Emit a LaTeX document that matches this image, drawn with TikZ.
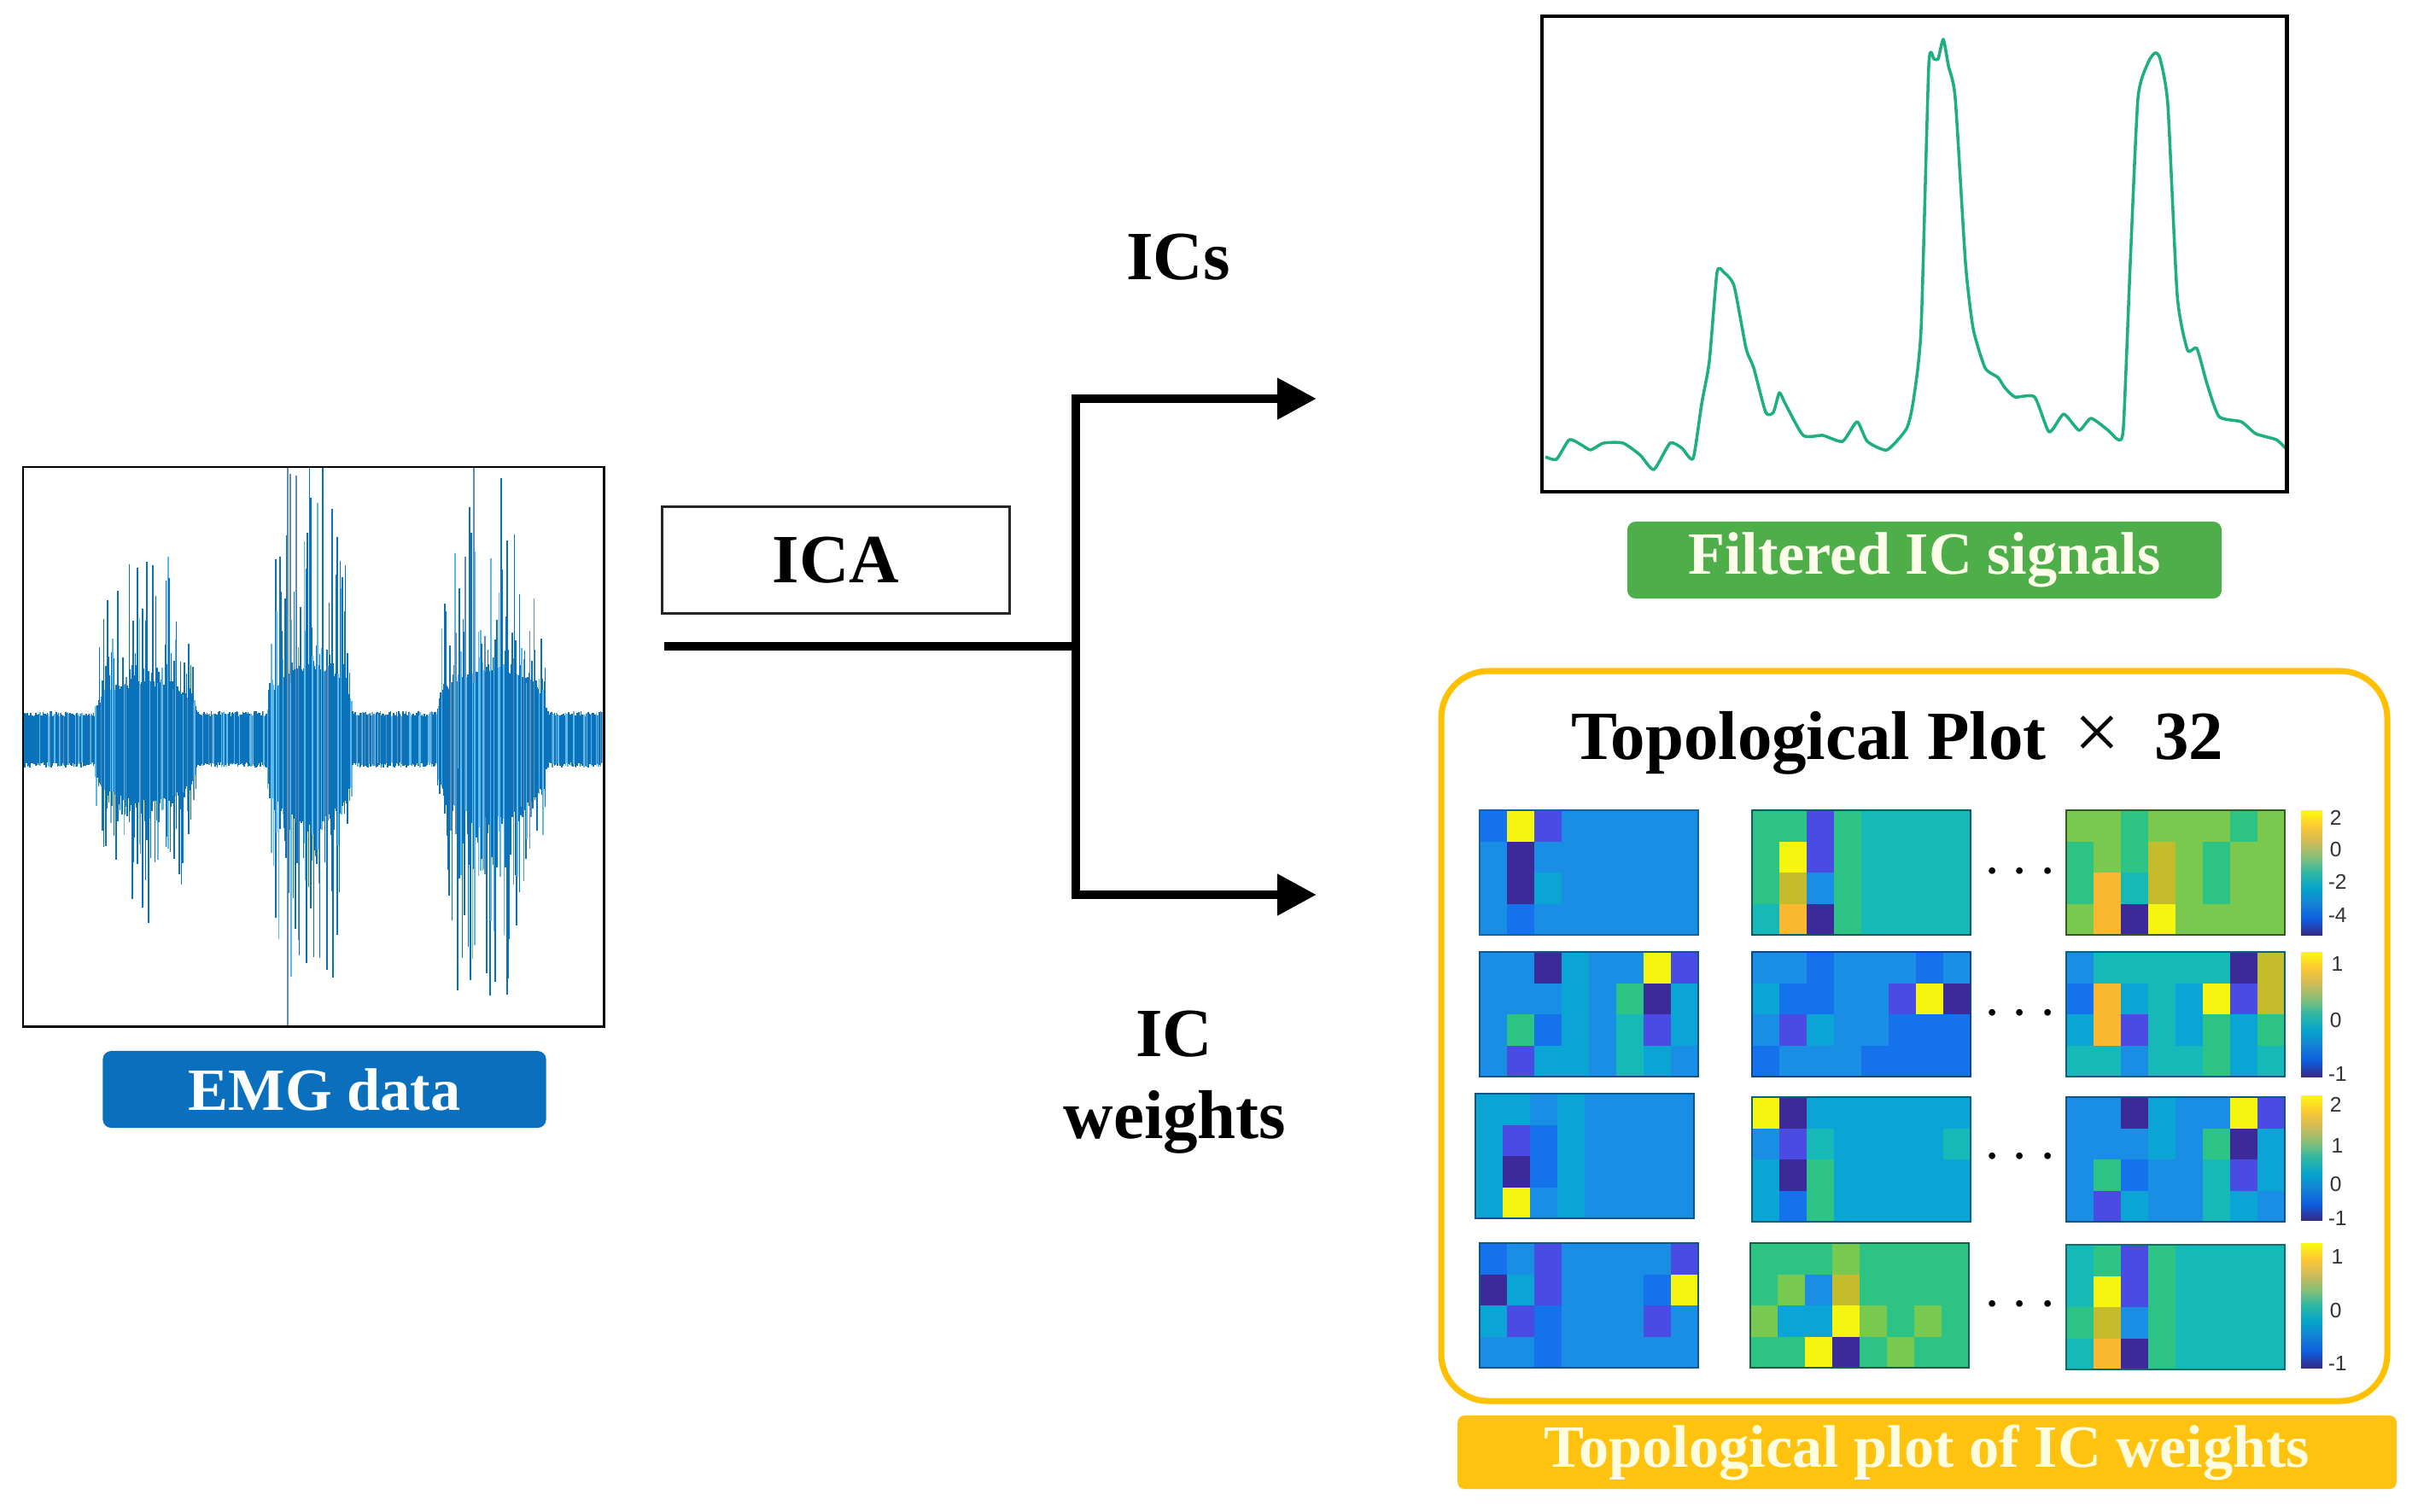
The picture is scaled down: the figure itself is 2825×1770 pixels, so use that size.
\documentclass[tikz,border=0pt]{standalone}
\usepackage{fontspec}
\setmainfont{Liberation Serif}
\newfontfamily\tickfont{Liberation Sans}
\usetikzlibrary{arrows.meta}
\definecolor{emgmain}{HTML}{0A72BA}
\definecolor{emglite}{HTML}{5CB9EA}
\definecolor{emggray}{HTML}{5F8DB4}
\colorlet{emgc0}{emgmain}\colorlet{emgc1}{emgmain}\colorlet{emgc2}{emgmain}
\colorlet{emgc3}{emgmain}\colorlet{emgc4}{emgmain}\colorlet{emgc5}{emgmain}
\colorlet{emgc6}{emgmain}\colorlet{emgc7}{emglite}\colorlet{emgc8}{emglite}
\colorlet{emgc9}{emggray}
\definecolor{labblue}{HTML}{0A70BE}
\definecolor{labgreen}{HTML}{4DAE4A}
\definecolor{laborange}{HTML}{FFC20E}
\definecolor{boxorange}{HTML}{FFC000}
\definecolor{sigcolor}{HTML}{1DB07C}
\definecolor{hm0}{HTML}{3B2A98}
\definecolor{hm1}{HTML}{4A4BE3}
\definecolor{hm2}{HTML}{1473EC}
\definecolor{hm3}{HTML}{1A8DE5}
\definecolor{hm4}{HTML}{0AA5D5}
\definecolor{hm5}{HTML}{17B8B8}
\definecolor{hm6}{HTML}{2DC385}
\definecolor{hm7}{HTML}{79C850}
\definecolor{hm8}{HTML}{C4BC2A}
\definecolor{hm9}{HTML}{F9B82F}
\definecolor{hm10}{HTML}{F5F50F}
\definecolor{pa}{HTML}{352A87}
\definecolor{pb}{HTML}{0F5CDD}
\definecolor{pc}{HTML}{1481D6}
\definecolor{pd}{HTML}{06A4CA}
\definecolor{pe}{HTML}{2EB7A4}
\definecolor{pf}{HTML}{87BF77}
\definecolor{pg}{HTML}{D1BB59}
\definecolor{ph}{HTML}{FEC832}
\definecolor{pi}{HTML}{F9FB0E}
\newcommand\hmpanel[4]{%
  \foreach \hrow [count=\hr from 0] in {#4} {
    \foreach \hv [count=\hc from 0] in \hrow {
      \fill[hm\hv] ({#1+\hc*32},{#2+\hr*36.5}) rectangle ++(32.4,36.9);
    }
  }
  \draw[#3, line width=0.45pt] (#1,#2) rectangle ++(256,146);
}
\newcommand\cbar[1]{%
  \shade[bottom color=pa, top color=pb] (2695,{#1+146}) rectangle ++(25,-18.25);
  \shade[bottom color=pb, top color=pc] (2695,{#1+127.75}) rectangle ++(25,-18.25);
  \shade[bottom color=pc, top color=pd] (2695,{#1+109.5}) rectangle ++(25,-18.25);
  \shade[bottom color=pd, top color=pe] (2695,{#1+91.25}) rectangle ++(25,-18.25);
  \shade[bottom color=pe, top color=pf] (2695,{#1+73}) rectangle ++(25,-18.25);
  \shade[bottom color=pf, top color=pg] (2695,{#1+54.75}) rectangle ++(25,-18.25);
  \shade[bottom color=pg, top color=ph] (2695,{#1+36.5}) rectangle ++(25,-18.25);
  \shade[bottom color=ph, top color=pi] (2695,{#1+18.25}) rectangle ++(25,-18.25);
}
\begin{document}
\begin{tikzpicture}[x=0.01cm,y=-0.01cm,
  declare function={bmp(\xa,\ca,\wa)=sqrt(max(0,1-((\xa-\ca)/\wa)^2));
    burst(\xa)=78*bmp(\xa,171,60)+118*bmp(\xa,363,50)+112*bmp(\xa,576,64);},
  flow/.style={line width=3.1pt, black, line join=miter},
  tip/.style={-{Triangle[length=0.46cm,width=0.46cm]}},
  bigtxt/.style={font=\fontsize{23}{27}\selectfont\bfseries},
  lab/.style={rounded corners=0.1cm, inner sep=0pt,
    font=\fontsize{20}{24}\selectfont\bfseries},
  tick/.style={font=\tickfont\fontsize{7}{8}\selectfont, text=black!80, anchor=west, inner sep=0pt}]
\useasboundingbox (0,0) rectangle (2825,1770);
\fill[white] (0,0) rectangle (2825,1770);

% ---------- EMG data ----------
\begin{scope}
\clip (28,548) rectangle (706,1201);
\fill[emgmain] plot[domain=29:706, samples=300] (\x,{866-26-0.4*burst(\x)})
  -- plot[domain=706:29, samples=300] (\x,{866+26+0.5*burst(\x)}) -- cycle;
\pgfmathsetseed{11}
\foreach \i in {0,...,565}{
  \pgfmathsetmacro\xx{29+\i*1.2}
  \pgfmathsetmacro\bb{burst(\xx)}
  \pgfmathsetmacro\ra{rnd}
  \pgfmathsetmacro\rb{rnd}
  \pgfmathsetmacro\rc{rnd}
  \pgfmathsetmacro\rd{rnd}
  \pgfmathsetmacro\up{27+6*\ra+\bb*(0.45+2.2*\rc*\rc*\rc)}
  \pgfmathsetmacro\dn{27+6*\rb+\bb*(0.55+2.0*\rd*\rd*\rd)}
  \pgfmathtruncatemacro\ci{int(rnd*9.99)}
  \draw[emgc\ci, line width=0.42pt] (\xx,{866-\up}) -- (\xx,{866+\dn});
}
\draw[emggray, line width=0.5pt] (337,548) -- (337,1201);
\draw[emggray, line width=0.5pt] (555,548) -- (555,800);
\draw[emggray, line width=0.5pt] (340,555) -- (340,800);
\draw[emgmain, line width=0.6pt] (536,900) -- (536,1160);
\end{scope}
\draw[black, line width=0.85pt] (27,547) rectangle (707,1202);
\node[lab, fill=labblue, text=white, minimum width=5.19cm, minimum height=0.9cm] (emglab) at (380,1276) {EMG data};

% ---------- ICA and connectors ----------
\node[draw=black!85, line width=0.8pt, minimum width=4.06cm, minimum height=1.25cm, inner sep=0pt, bigtxt] (ica) at (979,656) {ICA};
\coordinate (icain) at (778,757);
\coordinate (split) at (1260,757);
\coordinate (icsend) at (1542,467);
\coordinate (wend) at (1542,1048);
\draw[flow] (icain) -- (split);
\draw[flow, tip] (split) |- (icsend);
\draw[flow, tip] (split) |- (wend);
\node[bigtxt] (icslab) at (1380,301) {ICs};
\node[bigtxt] (iclab) at (1375,1211) {IC};
\node[bigtxt] (wlab) at (1376,1314) {weights};

% ---------- Filtered IC signals ----------
\draw[sigcolor, line width=1pt, line join=round] plot[smooth, tension=0.35] coordinates {
 (1810,535) (1823,538) (1838,515) (1852,521) (1863,527) (1878,519) (1901,519) (1921,533) (1937,550) (1956,519) (1970,525) (1983,537) (1993,473) (2002,423) (2011,319) (2019,319) (2031,335) (2045,408) (2054,431) (2068,483) (2077,483) (2084,460) (2091,473) (2112,510) (2135,510) (2158,517) (2175,494) (2187,517) (2210,527) (2233,502) (2241,469) (2250,385) (2259,77) (2265,69) (2270,69) (2276,46) (2282,77) (2290,115) (2302,308) (2311,385) (2325,431) (2340,442) (2348,454) (2360,465) (2383,465) (2400,506) (2417,485) (2435,504) (2449,490) (2469,504) (2481,515) (2487,500) (2495,308) (2504,115) (2516,73) (2524,62) (2530,69) (2539,123) (2550,346) (2562,410) (2573,408) (2585,450) (2599,488) (2625,494) (2642,508) (2666,515) (2677,525)};
\draw[black, line width=1.4pt] (1806,19) rectangle (2678,576);
\node[lab, fill=labgreen, text=white!92!yellow, minimum width=6.96cm, minimum height=0.9cm] (greenlab) at (2254,656) {Filtered IC signals};

% ---------- Topological plots ----------
\draw[boxorange, line width=2pt, rounded corners=0.55cm] (1688,786) rectangle (2796,1641);
\node[bigtxt] (topotitle) at (2222,870) {Topological Plot\hspace{0.4em}{\mdseries\fontsize{27}{27}\selectfont ×}\hspace{0.5em}32};
\node[lab, rounded corners=0.08cm, fill=laborange, text=white!88!yellow, minimum width=10.99cm, minimum height=0.86cm] (orangelab) at (2257,1701) {Topological plot of IC weights};

% row 1
\hmpanel{1733}{949}{hm3!70!black}{{2,10,1,3,3,3,3,3},{3,0,3,3,3,3,3,3},{3,0,4,3,3,3,3,3},{3,2,3,3,3,3,3,3}}
\hmpanel{2052}{949}{hm5!50!black}{{6,6,1,6,5,5,5,5},{6,10,1,6,5,5,5,5},{6,8,3,6,5,5,5,5},{5,9,0,6,5,5,5,5}}
\hmpanel{2420}{949}{hm7!45!black}{{7,7,6,7,7,7,6,7},{6,7,6,8,7,6,7,7},{6,9,5,8,7,6,7,7},{7,9,0,10,7,7,7,7}}
% row 2
\hmpanel{1733}{1115}{hm3!60!black}{{3,3,0,4,3,3,10,1},{3,3,3,4,3,6,0,4},{3,6,2,4,3,5,1,4},{3,1,4,4,3,5,4,3}}
\hmpanel{2052}{1115}{hm2!60!black}{{3,3,2,3,3,3,2,3},{4,2,2,3,3,1,10,0},{3,1,4,3,3,2,2,2},{2,3,3,3,2,2,2,2}}
\hmpanel{2420}{1115}{hm4!60!black}{{3,5,5,5,5,5,0,8},{2,9,4,5,4,10,1,8},{4,9,1,5,4,6,4,6},{5,5,3,5,5,6,4,5}}
% row 3
\hmpanel{1728}{1281}{hm3!60!black}{{4,4,3,4,3,3,3,3},{4,1,2,4,3,3,3,3},{4,0,2,4,3,3,3,3},{4,10,3,4,3,3,3,3}}
\hmpanel{2052}{1285}{hm4!60!black}{{10,0,4,4,4,4,4,4},{3,1,5,4,4,4,4,5},{4,0,6,4,4,4,4,4},{4,2,6,4,4,4,4,4}}
\hmpanel{2420}{1285}{hm3!60!black}{{3,3,0,4,3,3,10,1},{3,3,3,4,3,6,0,4},{3,6,2,3,3,5,1,4},{3,1,4,3,3,5,4,3}}
% row 4
\hmpanel{1733}{1456}{hm3!60!black}{{2,3,1,3,3,3,3,1},{0,4,1,3,3,3,2,10},{4,1,2,3,3,3,1,3},{3,3,2,3,3,3,3,3}}
\hmpanel{2050}{1456}{hm6!50!black}{{6,6,6,7,6,6,6,6},{6,7,3,8,6,6,6,6},{7,4,4,10,7,6,7,6},{6,6,10,0,6,7,6,6}}
\hmpanel{2420}{1458}{hm5!60!black}{{5,6,1,6,5,5,5,5},{5,10,1,6,5,5,5,5},{6,8,3,6,5,5,5,5},{5,9,0,6,5,5,5,5}}

% dots
\foreach \yy/\nm in {1022/da,1188/db,1356/dc,1529/dd}
  \node[font=\fontsize{22}{22}\selectfont] (\nm) at (2366,\yy) {$\cdots$};

% colorbars
\cbar{949}
\cbar{1115}
\cbar{1283}
\cbar{1456}
\node[tick] (t1a) at (2728,958) {2};
\node[tick] (t1b) at (2728,995) {0};
\node[tick] (t1c) at (2726,1033) {-2};
\node[tick] (t1d) at (2726,1072) {-4};
\node[tick] (t2a) at (2730,1129) {1};
\node[tick] (t2b) at (2728,1195) {0};
\node[tick] (t2c) at (2726,1258) {-1};
\node[tick] (t3a) at (2728,1294) {2};
\node[tick] (t3b) at (2730,1342) {1};
\node[tick] (t3c) at (2728,1387) {0};
\node[tick] (t3d) at (2726,1427) {-1};
\node[tick] (t4a) at (2730,1472) {1};
\node[tick] (t4b) at (2728,1535) {0};
\node[tick] (t4c) at (2726,1597) {-1};
\end{tikzpicture}
\end{document}
